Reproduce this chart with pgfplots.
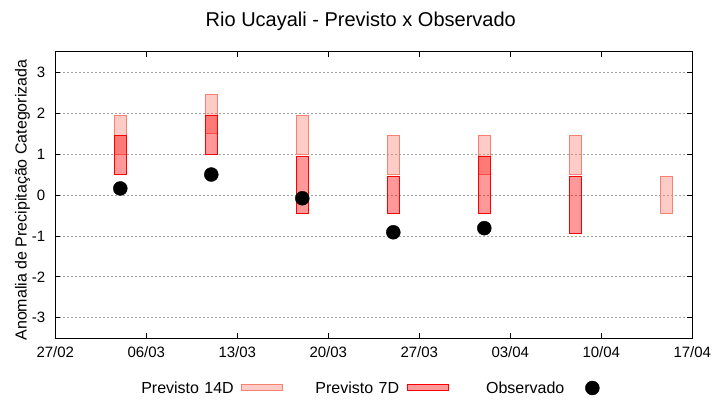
\documentclass[border=0pt]{standalone}
\usepackage{fontspec}
\setmainfont{Liberation Sans}
\usepackage{pgfplots}
\usepackage{pgfplotstable}
\pgfplotsset{compat=1.18}
\definecolor{cfourteen}{HTML}{FA8072}
\definecolor{cseven}{HTML}{FF0000}
\definecolor{gridgray}{RGB}{160,160,160}

% Previsto 14D: boxes (corners), nan rows separate boxes
\pgfplotstableread{
x y
4.55 1.00
5.45 1.00
5.45 1.95
4.55 1.95
4.55 1.00
nan nan
11.55 1.50
12.45 1.50
12.45 2.45
11.55 2.45
11.55 1.50
nan nan
18.55 1.00
19.45 1.00
19.45 1.95
18.55 1.95
18.55 1.00
nan nan
25.55 0.50
26.45 0.50
26.45 1.45
25.55 1.45
25.55 0.50
nan nan
32.55 0.50
33.45 0.50
33.45 1.45
32.55 1.45
32.55 0.50
nan nan
39.55 0.50
40.45 0.50
40.45 1.45
39.55 1.45
39.55 0.50
nan nan
46.55 -0.45
47.45 -0.45
47.45 0.45
46.55 0.45
46.55 -0.45
}\prevfourteen

% Previsto 7D
\pgfplotstableread{
x y
4.55 0.50
5.45 0.50
5.45 1.45
4.55 1.45
4.55 0.50
nan nan
11.55 1.00
12.45 1.00
12.45 1.95
11.55 1.95
11.55 1.00
nan nan
18.55 -0.45
19.45 -0.45
19.45 0.95
18.55 0.95
18.55 -0.45
nan nan
25.55 -0.45
26.45 -0.45
26.45 0.45
25.55 0.45
25.55 -0.45
nan nan
32.55 -0.45
33.45 -0.45
33.45 0.95
32.55 0.95
32.55 -0.45
nan nan
39.55 -0.95
40.45 -0.95
40.45 0.45
39.55 0.45
39.55 -0.95
}\prevseven

% Observado
\pgfplotstableread{
x y
5 0.16
12 0.50
19 -0.08
26 -0.91
33 -0.81
}\observado

\begin{document}
\begin{tikzpicture}
\path[use as bounding box] (0bp,0bp) rectangle (720bp,400bp);
\begin{axis}[
  at={(55.3bp,61.7bp)}, anchor=south west,
  width=637bp, height=286.6bp, scale only axis,
  xmin=0, xmax=49, ymin=-3.5, ymax=3.5,
  xtick={0,7,14,21,28,35,42,49},
  xticklabels={27/02,06/03,13/03,20/03,27/03,03/04,10/04,17/04},
  ytick={-3,-2,-1,0,1,2,3},
  /pgf/number format/assume math mode=true,
  tick align=inside, major tick length=5bp,
  tick style={black, line width=0.8bp},
  axis line style={line width=0.9bp},
  ymajorgrids,
  major grid style={gridgray, line width=0.8bp, dash pattern=on 2bp off 2bp},
  ticklabel style={font=\fontsize{15bp}{18bp}\selectfont},
  xticklabel style={inner sep=0pt, anchor=north, yshift=-8bp},
  yticklabel style={inner sep=0pt, anchor=east, xshift=-10bp},
  ylabel={Anomalia de Precipitação Categorizada},
  ylabel style={at={(axis description cs:0,0.5)}, anchor=base, rotate=0, yshift=28.6bp, xshift=-5bp,
    font=\fontsize{16bp}{19bp}\selectfont, inner sep=0pt},
  title={Rio Ucayali - Previsto x Observado},
  title style={at={(axis description cs:0.5,1)}, anchor=base, yshift=19.4bp, xshift=-13bp,
    font=\fontsize{20bp}{24bp}\selectfont, inner sep=0pt},
  unbounded coords=jump,
  legend columns=3,
  legend plot pos=right,
  legend style={draw=none, fill=none, at={(axis description cs:0.1232,-0.1734)}, anchor=west,
    font=\fontsize{16bp}{19bp}\selectfont, inner sep=0pt, outer sep=0pt,
    nodes={inner sep=0pt, text width=100bp, align=right},
    /tikz/every odd column/.append style={column sep=7.5bp},
    /tikz/every even column/.append style={column sep=15.8bp}},
]
\addplot[draw=cfourteen, fill=cfourteen, fill opacity=0.4, line width=1bp,
  legend image code/.code={\draw[draw=cfourteen, fill=cfourteen, fill opacity=0.4, line width=1bp] (0bp,-3bp) rectangle (41bp,3bp);}]
  table[x=x, y=y] {\prevfourteen};
\addlegendentry{Previsto 14D}
\addplot[draw=cseven, fill=cseven, fill opacity=0.4, line width=1bp,
  legend image code/.code={\draw[draw=cseven, fill=cseven, fill opacity=0.4, line width=1bp] (0bp,-3bp) rectangle (41bp,3bp);}]
  table[x=x, y=y] {\prevseven};
\addlegendentry{Previsto 7D}
\addplot[only marks, mark=*, mark size=7bp, black,
  legend image code/.code={\path[draw=none, fill=none] (0bp,-3bp) rectangle (41bp,3bp); \fill[black] (20.5bp,0bp) circle (7bp);}]
  table[x=x, y=y] {\observado};
\addlegendentry{Observado}
\end{axis}
\end{tikzpicture}
\end{document}
